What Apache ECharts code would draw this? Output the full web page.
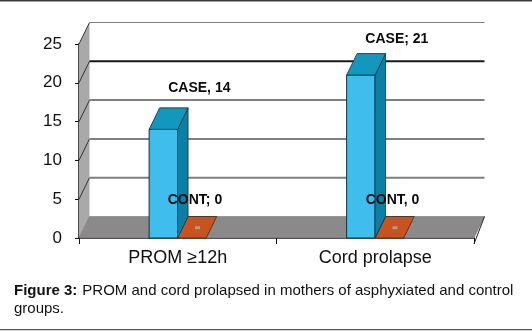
<!DOCTYPE html>
<html>
<head>
<meta charset="utf-8">
<style>html,body{margin:0;padding:0;background:#fff}#c{width:532px;height:331px}</style>
<script src="https://cdn.jsdelivr.net/npm/echarts@6/dist/echarts.min.js"></script>
</head>
<body>
<div id="c"></div>
<script>
const categories = ['PROM ≥12h', 'Cord prolapse'];
const caseValues = [14, 21];
const contValues = [0, 0];
const caseLabels = ['CASE, 14', 'CASE; 21'];
const contLabels = ['CONT; 0', 'CONT, 0'];
const ticks = [0, 5, 10, 15, 20, 25];

const DX = 10.5, DY = -21.5;
const FONT = '"Liberation Sans", Arial, sans-serif';
const caseLabelRise = [-41, -36];
const contLabelRise = [-38, -38];

function skew(x0, y0, x1, y1) {
  return [[x0, y0], [x1, y1], [x1 + DX, y1 + DY], [x0 + DX, y0 + DY]];
}

function wallItem(params, api) {
  const cs = params.coordSys;
  const L = cs.x, R = cs.x + cs.width;
  const v = api.value(0);
  const y = api.coord([0, v])[1];
  const children = [];
  if (v === 0) {
    children.push({ type: 'polygon', shape: { points: [[L, cs.y], [L + DX, cs.y + DY], [L + DX, y + DY], [L, y]] }, style: { fill: '#a9a9a9' } });
    children.push({ type: 'polygon', shape: { points: skew(L, y, R, y) }, style: { fill: '#8b8989', stroke: '#6b6b6b', lineWidth: 0.5 } });
    children.push({ type: 'line', shape: { x1: R, y1: y + 6, x2: R + DX, y2: y + DY }, style: { stroke: '#222', lineWidth: 1 } });
    return { type: 'group', children };
  }
  const dark = v === 20;
  children.push({ type: 'line', shape: { x1: L, y1: y, x2: L + DX, y2: y + DY }, style: { stroke: '#333', lineWidth: 1 } });
  children.push({ type: 'line', shape: { x1: L + DX, y1: y + DY, x2: R + DX, y2: y + DY },
    style: { stroke: dark ? '#1a1a1a' : '#7f7f7f', lineWidth: v === 25 ? 1.2 : 2 } });
  return { type: 'group', children };
}

function barItem(offsetFrac, fills, labels, labelDx, labelRise) {
  return function (params, api) {
    const i = api.value(0);
    const v = api.value(1);
    const band = api.size([1, 0])[0];
    const start = api.coord([i, 0])[0] - band / 2;
    const x0 = start + band * offsetFrac;
    const x1 = x0 + band * 0.144;
    const yTop = api.coord([i, v])[1];
    const yBase = api.coord([i, 0])[1];
    const children = [];
    const edge = '#12323f';
    if (v > 0) {
      children.push({ type: 'rect', shape: { x: x0, y: yTop, width: x1 - x0, height: yBase - yTop }, style: { fill: fills.front, stroke: edge, lineWidth: 1 } });
      children.push({ type: 'polygon', shape: { points: [[x1, yTop], [x1 + DX, yTop + DY], [x1 + DX, yBase + DY], [x1, yBase]] }, style: { fill: fills.side, stroke: edge, lineWidth: 0.8 } });
      children.push({ type: 'polygon', shape: { points: skew(x0, yTop, x1, yTop) }, style: { fill: fills.top, stroke: edge, lineWidth: 0.8 } });
    } else {
      children.push({ type: 'polygon', shape: { points: skew(x0, yBase, x1, yBase) }, style: { fill: fills.top, stroke: '#3a2a20', lineWidth: 0.8 } });
      children.push({ type: 'rect', shape: { x: (x0 + x1) / 2 + 3, y: yBase + DY / 2 - 1, width: 5, height: 3 }, style: { fill: '#a8a08f' } });
    }
    children.push({ type: 'text', z2: 50, style: {
      text: labels[i], x: (x0 + x1) / 2 + labelDx, y: yTop + labelRise[i],
      align: 'center', verticalAlign: 'middle', fill: '#0a0a0a',
      font: 'bold 14px ' + FONT } });
    return { type: 'group', children };
  };
}

const chart = echarts.init(document.getElementById('c'), null, { renderer: 'canvas' });
chart.setOption({
  animation: false,
  backgroundColor: '#fff',
  grid: { left: 79, right: 58, top: 44, bottom: 93 },
  title: {
    left: 14, top: 282, padding: 0, itemGap: 0,
    text: '{b|Figure 3:} {n|PROM and cord prolapsed in mothers of asphyxiated and control}\n{n|groups.}',
    textStyle: {
      fontWeight: 'normal',
      rich: {
        b: { fontFamily: FONT, fontSize: 15, fontWeight: 'bold', color: '#111', lineHeight: 18 },
        n: { fontFamily: FONT, fontSize: 15, fontWeight: 'normal', color: '#111', lineHeight: 18 }
      }
    }
  },
  xAxis: {
    type: 'category', data: categories, boundaryGap: true,
    axisLine: { lineStyle: { color: '#111', width: 1.5 } },
    axisTick: { show: true, length: 6, alignWithLabel: false, lineStyle: { color: '#111' } },
    axisLabel: { color: '#111', fontFamily: FONT, fontSize: 18, margin: 11 },
    splitLine: { show: false }
  },
  yAxis: {
    type: 'value', min: 0, max: 25, interval: 5,
    axisLine: { show: true, lineStyle: { color: '#111', width: 1.5 } },
    axisTick: { show: true, length: 4, lineStyle: { color: '#111' } },
    axisLabel: { color: '#111', fontFamily: FONT, fontSize: 17, margin: 17 },
    splitLine: { show: false }
  },
  graphic: [
    { type: 'rect', silent: true, shape: { x: 0, y: 0, width: 532, height: 1.5 }, style: { fill: '#3c3c3c' } },
    { type: 'rect', silent: true, shape: { x: 0, y: 329, width: 532, height: 1.2 }, style: { fill: '#555' } }
  ],
  series: [
    { type: 'custom', z: 1, silent: true, clip: false, encode: { y: 0 }, data: ticks.map(v => [v]), renderItem: wallItem },
    { type: 'custom', z: 2, silent: true, clip: false, encode: { x: 0, y: 1 },
      data: caseValues.map((v, i) => [i, v]),
      renderItem: barItem(0.355, { front: '#3fbdec', side: '#0d7fa5', top: '#1298bd' }, caseLabels, 36, caseLabelRise) },
    { type: 'custom', z: 3, silent: true, clip: false, encode: { x: 0, y: 1 },
      data: contValues.map((v, i) => [i, v]),
      renderItem: barItem(0.5, { front: '#c9531f', side: '#a2421a', top: '#c9531f' }, contLabels, 3, contLabelRise) }
  ]
});
</script>
</body>
</html>
